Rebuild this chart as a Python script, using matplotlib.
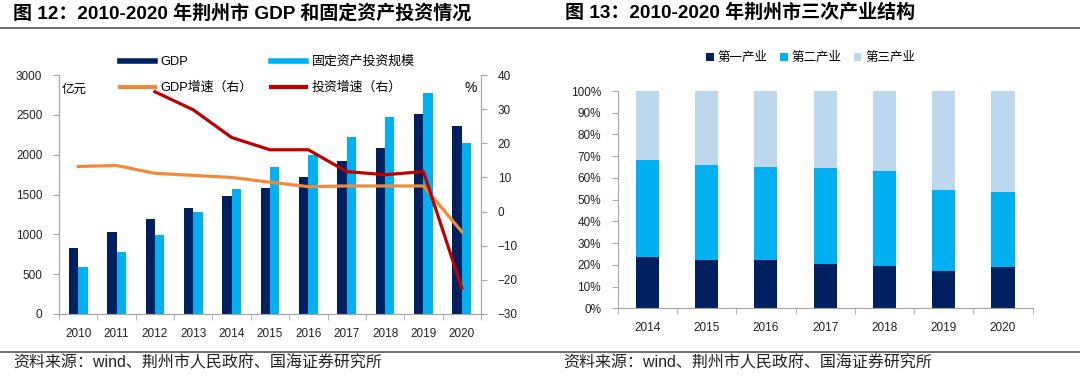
import matplotlib
matplotlib.use("Agg")
import matplotlib.pyplot as plt
import numpy as np
from matplotlib.lines import Line2D
from matplotlib.ticker import MultipleLocator, FixedLocator

plt.rcParams['font.family'] = ['Liberation Sans', 'Noto Sans CJK SC']

# ---- data: left chart ----
years_l = ['2010', '2011', '2012', '2013', '2014', '2015', '2016', '2017', '2018', '2019', '2020']
gdp = [825, 1033, 1189, 1327, 1481, 1586, 1720, 1920, 2080, 2510, 2360]
fai = [594, 774, 988, 1277, 1565, 1848, 1996, 2226, 2469, 2770, 2150]
gdp_growth = [13.2, 13.5, 11.2, 10.6, 10.0, 8.6, 7.3, 7.5, 7.5, 7.5, -5.9]
inv_growth = [None, None, 35.1, 29.8, 21.7, 18.1, 18.1, 11.7, 10.8, 11.7, -22.4]

# ---- data: right chart ----
years_r = ['2014', '2015', '2016', '2017', '2018', '2019', '2020']
primary = [23.7, 22.2, 22.0, 20.4, 19.6, 17.2, 19.2]
secondary = [44.5, 43.8, 42.9, 44.2, 43.6, 37.2, 34.3]
tertiary = [100 - a - b for a, b in zip(primary, secondary)]

C_NAVY = '#002060'
C_CYAN = '#00B0F0'
C_ORANGE = '#F08a3a'
C_RED = '#C00000'
C_LIGHT = '#BDD7EE'
C_AXIS = '#A6A6A6'

fig = plt.figure(figsize=(10.8, 3.77), dpi=100)

# titles and rules
fig.text(13/1080, 1 - 13/377, '图 12：2010-2020 年荆州市 GDP 和固定资产投资情况', fontsize=13.7,
         fontweight='bold', va='center', ha='left')
fig.text(565/1080, 1 - 13/377, '图 13：2010-2020 年荆州市三次产业结构', fontsize=13.7,
         fontweight='bold', va='center', ha='left')
fig.add_artist(Line2D([0, 1], [1 - 27.5/377, 1 - 27.5/377], color='#555555', lw=1.2))
fig.add_artist(Line2D([0, 1], [1 - 351.5/377, 1 - 351.5/377], color='#555555', lw=1.2))
fig.text(13/1080, 1 - 363/377, '资料来源：wind、荆州市人民政府、国海证券研究所', fontsize=11.5,
         va='center', ha='left', color='#222222')
fig.text(563/1080, 1 - 363/377, '资料来源：wind、荆州市人民政府、国海证券研究所', fontsize=11.5,
         va='center', ha='left', color='#222222')

# ---- left chart ----
ax = fig.add_axes([59/1080, 1 - 314/377, 422/1080, 239/377])
x = np.arange(len(years_l))
w = 0.245
ax.bar(x - w/2, gdp, width=w, color=C_NAVY, label='GDP')
ax.bar(x + w/2, fai, width=w, color=C_CYAN, label='固定资产投资规模')
ax.set_xlim(-0.5, len(years_l) - 0.5)
ax.set_ylim(0, 3000)
ax.yaxis.set_major_locator(MultipleLocator(500))
ax.set_xticks(x)
ax.set_xticklabels(years_l)
ax.xaxis.set_minor_locator(FixedLocator(np.arange(-0.5, len(years_l), 1)))
ax.tick_params(axis='x', which='major', length=0, pad=10, labelsize=8.5, colors='#222222')
ax.tick_params(axis='x', which='minor', length=4, color=C_AXIS)
ax.tick_params(axis='y', length=4, color=C_AXIS, pad=8, labelsize=8.5, labelcolor='#222222')
ax.spines['top'].set_visible(False)
for s in ['left', 'bottom', 'right']:
    ax.spines[s].set_color(C_AXIS)
ax.text(3/422, 1 - 15/239, '亿元', transform=ax.transAxes, fontsize=9, va='center', ha='left')

ax2 = ax.twinx()
ax2.set_ylim(-30, 40)
ax2.yaxis.set_major_locator(MultipleLocator(10))
xs_inv = [xi for xi, v in zip(x, inv_growth) if v is not None]
vs_inv = [v for v in inv_growth if v is not None]
ax2.plot(x, gdp_growth, color=C_ORANGE, lw=2.3, label='GDP增速（右）')
ax2.plot(xs_inv, vs_inv, color=C_RED, lw=2.3, label='投资增速（右）')
ax2.tick_params(axis='y', length=4, color=C_AXIS, pad=8, labelsize=8.5, labelcolor='#222222')
ax2.spines['top'].set_visible(False)
for s in ['left', 'bottom', 'right']:
    ax2.spines[s].set_color(C_AXIS)
ax2.text(1 - 4/422, 1 - 13/239, '%', transform=ax2.transAxes, fontsize=10, va='center', ha='right')

labels = ['GDP', 'GDP增速（右）', '固定资产投资规模', '投资增速（右）']
handles = [Line2D([0], [0], color=C_NAVY, lw=4), Line2D([0], [0], color=C_ORANGE, lw=3),
           Line2D([0], [0], color=C_CYAN, lw=4), Line2D([0], [0], color=C_RED, lw=3)]
ax2.legend(handles, labels, ncol=2, loc='upper left', bbox_to_anchor=(61/422, 1 + 19/239),
           frameon=False, fontsize=9.3, handlelength=2.7, handletextpad=0.45,
           columnspacing=1.4, labelspacing=1.05, borderaxespad=0, borderpad=0)

# ---- right chart ----
bx = fig.add_axes([617.7/1080, 1 - 308.3/377, 415/1080, 217.3/377])
xr = np.arange(len(years_r))
bw = 0.39
bx.bar(xr, primary, width=bw, color=C_NAVY, label='第一产业')
bx.bar(xr, secondary, width=bw, bottom=primary, color=C_CYAN, label='第二产业')
bottom3 = [a + b for a, b in zip(primary, secondary)]
bx.bar(xr, tertiary, width=bw, bottom=bottom3, color=C_LIGHT, label='第三产业')
bx.set_xlim(-0.5, len(years_r) - 0.5)
bx.set_ylim(0, 100)
bx.set_yticks(np.arange(0, 101, 10))
bx.set_yticklabels([f'{v}%' for v in range(0, 101, 10)])
bx.set_xticks(xr)
bx.set_xticklabels(years_r)
bx.xaxis.set_minor_locator(FixedLocator(np.arange(-0.5, len(years_r), 1)))
bx.tick_params(axis='x', which='major', length=0, pad=10, labelsize=8.5, colors='#222222')
bx.tick_params(axis='x', which='minor', length=4, color=C_AXIS)
bx.tick_params(axis='y', length=4, color=C_AXIS, pad=8, labelsize=8.5, labelcolor='#222222')
for s in ['top', 'right']:
    bx.spines[s].set_visible(False)
for s in ['left', 'bottom']:
    bx.spines[s].set_color(C_AXIS)
bx.legend(loc='center', bbox_to_anchor=(0.465, 1 + 33/217.3), ncol=3, frameon=False, fontsize=9,
          handlelength=0.6, handleheight=0.6, handletextpad=0.3, columnspacing=1.0,
          borderaxespad=0, borderpad=0)

fig.savefig('out.png', dpi=100)
